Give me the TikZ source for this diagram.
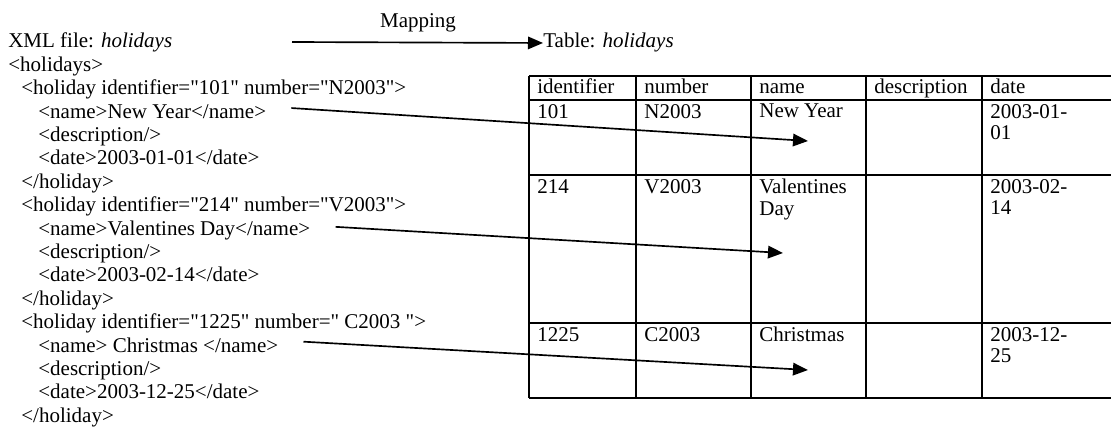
\documentclass[tikz,border=0pt]{standalone}
\usepackage{fontspec}
\setmainfont{Liberation Serif}[Ligatures=TeXOff]
\usetikzlibrary{arrows.meta}
\begin{document}
\begin{tikzpicture}[x=0.6pt,y=-0.6pt,
  txt/.style={anchor=base west,inner sep=0pt,font=\fontsize{12.6}{14}\selectfont},
  cell/.style={anchor=north west,inner sep=0pt,align=left,font=\fontsize{12.6}{13}\selectfont},
  headcell/.style={anchor=base west,inner sep=0pt,font=\fontsize{12.6}{13}\selectfont},
  tline/.style={line width=1.4pt},
  conn/.style={line width=1pt,-{Triangle[length=9pt,width=7.5pt]}}]
\useasboundingbox (0,0) rectangle (1111,442);
% left: XML text
\node[txt] (xmltitle) at (8,48) {XML file: \textit{holidays}};
\node[txt] (l1) at (8,71.4) {<holidays>};
\node[txt] (l2) at (21,94.8) {<holiday identifier="101" number="N2003">};
\node[txt] (l3) at (38,118.2) {<name>New Year</name>};
\node[txt] (l4) at (38,141.6) {<description/>};
\node[txt] (l5) at (38,165) {<date>2003-01-01</date>};
\node[txt] (l6) at (21,188.4) {</holiday>};
\node[txt] (l7) at (21,211.8) {<holiday identifier="214" number="V2003">};
\node[txt] (l8) at (38,235.2) {<name>Valentines Day</name>};
\node[txt] (l9) at (38,258.6) {<description/>};
\node[txt] (l10) at (38,282) {<date>2003-02-14</date>};
\node[txt] (l11) at (21,305.4) {</holiday>};
\node[txt] (l12) at (21,328.8) {<holiday identifier="1225" number=" C2003 ">};
\node[txt] (l13) at (38,352.2) {<name> Christmas </name>};
\node[txt] (l14) at (38,375.6) {<description/>};
\node[txt] (l15) at (38,399) {<date>2003-12-25</date>};
\node[txt] (l16) at (21,422.4) {</holiday>};
% mapping
\node[txt] (tabtitle) at (543,48) {Table: \textit{holidays}};
\node[txt,anchor=base] (maplabel) at (418,28) {Mapping};
\coordinate (mapstart) at (292,42);
\draw[conn] (mapstart) -- (tabtitle.west);
% table
\draw[tline] (529,76) -- (1112,76);
\draw[tline] (529,100) -- (1112,100);
\draw[tline] (529,175) -- (1112,175);
\draw[tline] (529,323) -- (1112,323);
\draw[tline] (529,398) -- (1112,398);
\foreach \cx in {529,636,751,866,982} {\draw[tline] (\cx,76) -- (\cx,398);}
% header
\node[headcell] (h1) at (537,94) {identifier};
\node[headcell] (h2) at (644,94) {number};
\node[headcell] (h3) at (759,94) {name};
\node[headcell] (h4) at (874,94) {description};
\node[headcell] (h5) at (990,94) {date};
% row 1
\node[cell] (r1a) at (537,103.8) {101};
\node[cell] (r1b) at (644,103.8) {N2003};
\node[cell] (r1c) at (759,103.8) {New Year};
\node[cell] (r1e) at (990,103.8) {2003-01-\\01};
% row 2
\node[cell] (r2a) at (537,178.8) {214};
\node[cell] (r2b) at (644,178.8) {V2003};
\node[cell] (r2c) at (759,178.8) {Valentines\\Day};
\node[cell] (r2e) at (990,178.8) {2003-02-\\14};
% row 3
\node[cell] (r3a) at (537,326.8) {1225};
\node[cell] (r3b) at (644,326.8) {C2003};
\node[cell] (r3c) at (759,326.8) {Christmas};
\node[cell] (r3e) at (990,326.8) {2003-12-\\25};
% arrows
\coordinate (tip1) at (808,141);
\coordinate (tip2) at (783,253);
\coordinate (tip3) at (808,370);
\draw[conn] ([xshift=15pt,yshift=2pt]l3.east) -- (tip1);
\draw[conn] ([xshift=15pt,yshift=2pt]l8.east) -- (tip2);
\draw[conn] ([xshift=15pt,yshift=2pt]l13.east) -- (tip3);
\end{tikzpicture}
\end{document}
